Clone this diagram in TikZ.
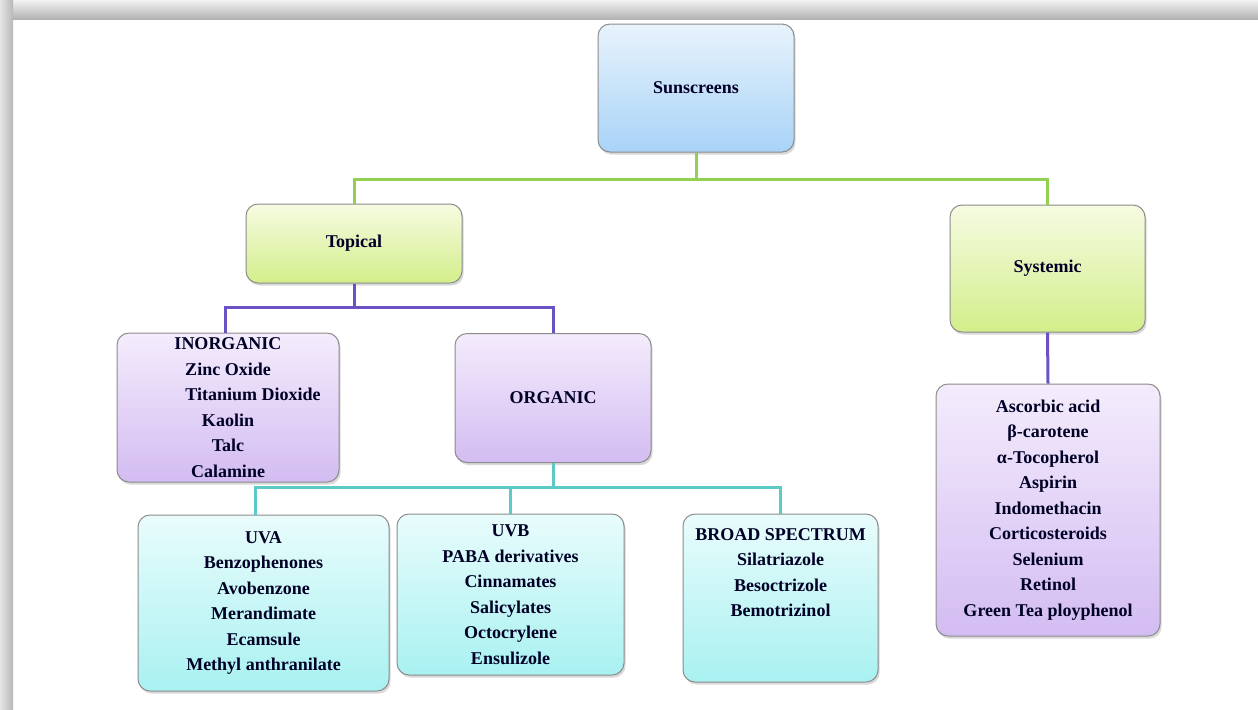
\documentclass[tikz,border=0pt]{standalone}
\usepackage{fontspec}
\setmainfont{Liberation Serif}
\usetikzlibrary{positioning,shadows}
\definecolor{greenln}{HTML}{92D050}
\definecolor{purpleln}{HTML}{6A52C2}
\definecolor{tealln}{HTML}{5CCBC6}
\definecolor{blueA}{HTML}{E8F3FC}
\definecolor{blueB}{HTML}{A8D3F7}
\definecolor{greenA}{HTML}{F6FBE2}
\definecolor{greenB}{HTML}{D3EE8A}
\definecolor{lilacA}{HTML}{F4ECFC}
\definecolor{lilacB}{HTML}{D3BCF2}
\definecolor{cyanA}{HTML}{E9FCFC}
\definecolor{cyanB}{HTML}{A9F1F1}
\tikzset{
  box/.style={draw=black!45,line width=.5pt,rounded corners=6pt,inner sep=0pt,
    align=center,font=\fontsize{9}{12.75}\selectfont\bfseries,text=black!85!blue,
    drop shadow={shadow xshift=.8pt,shadow yshift=-1.3pt,opacity=.3}},
  boxsize/.style 2 args={minimum width=#1*.5pt,minimum height=#2*.5pt},
  bluebox/.style={box,top color=blueA,bottom color=blueB},
  greenbox/.style={box,top color=greenA,bottom color=greenB},
  lilacbox/.style={box,top color=lilacA,bottom color=lilacB},
  cyanbox/.style={box,top color=cyanA,bottom color=cyanB},
  conn/.style={line width=1.5pt}
}

\begin{document}
\begin{tikzpicture}[x=.5pt,y=-.5pt]
\useasboundingbox (0,0) rectangle (1258,709);
% frame
\shade[top color=black!5,bottom color=black!30] (0,0) rectangle (1258,19);
\shade[left color=black!10,right color=black!28] (0,0) rectangle (13,709);

\node[bluebox,boxsize={196}{128}] (sun) at (696,88) {Sunscreens};
\node[greenbox,boxsize={216}{79}] (top) at (354,243.5) {Topical};
\node[greenbox,boxsize={195}{127}] (sys) at (1047.5,268.5) {Systemic};

\node[lilacbox,boxsize={222}{149}] (inorg) at (228,407.5)
  {INORGANIC\\Zinc Oxide\\\hspace*{25pt}Titanium Dioxide\\Kaolin\\Talc\\Calamine};
\node[lilacbox,boxsize={196}{129}] (org) at (553,398) {ORGANIC};
\node[lilacbox,boxsize={224}{252}] (syslist) at (1048,510)
  {Ascorbic acid\\β-carotene\\α-Tocopherol\\Aspirin\\Indomethacin\\
   Corticosteroids\\Selenium\\Retinol\\Green Tea ployphenol};

\node[cyanbox,boxsize={251}{176}] (uva) at (263.5,603)
  {UVA\\Benzophenones\\Avobenzone\\Merandimate\\Ecamsule\\Methyl anthranilate};
\node[cyanbox,boxsize={227}{161}] (uvb) at (510.5,594.5)
  {UVB\\PABA derivatives\\Cinnamates\\Salicylates\\Octocrylene\\Ensulizole};
\node[cyanbox,boxsize={195}{168}] (broad) at (780.5,598)
  {BROAD SPECTRUM\\Silatriazole\\Besoctrizole\\Bemotrizinol\\~\\~};

% buses
\coordinate (gbus) at (0,179);
\coordinate (pbus) at (0,307);
\coordinate (tbus) at (0,487);

\draw[conn,greenln] (sun.south) -- (sun.south |- gbus) -| (top.north);
\draw[conn,greenln] (sun.south |- gbus) -| (sys.north);

\draw[conn,purpleln] (top.south) -- (top.south |- pbus) -| ([xshift=-1.5pt]inorg.north);
\draw[conn,purpleln] (top.south |- pbus) -| (org.north);
\draw[conn,purpleln] (sys.south) -- (syslist.north);

\draw[conn,tealln] (org.south) -- (org.south |- tbus) -| ([xshift=-4pt]uva.north);
\draw[conn,tealln] (org.south |- tbus) -| (uvb.north);
\draw[conn,tealln] (org.south |- tbus) -| (broad.north);
\end{tikzpicture}
\end{document}
